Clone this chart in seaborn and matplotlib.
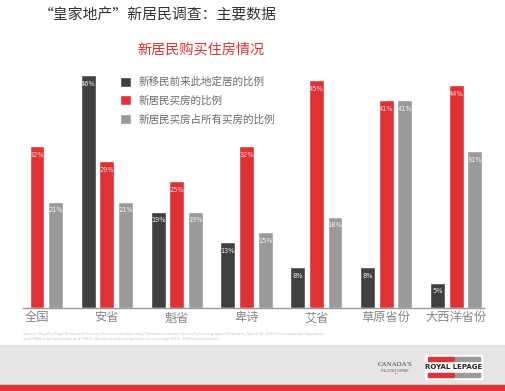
import numpy as np
import pandas as pd
import matplotlib.pyplot as plt
import seaborn as sns
from matplotlib.patches import Rectangle

# Data
regions = ['全国', '安省', '魁省', '卑诗', '艾省', '草原省份', '大西洋省份']
settle_pct = [np.nan, 46, 19, 13, 8, 8, 5]      # 新移民前来此地定居的比例
buy_pct = [32, 29, 25, 32, 45, 41, 44]          # 新居民买房的比例
share_pct = [21, 21, 19, 15, 18, 41, 31]        # 新居民买房占所有买房的比例
series = ['新移民前来此地定居的比例', '新居民买房的比例', '新居民买房占所有买房的比例']
colors = ['#404040', '#e03134', '#9a9a9a']
label_colors = ['#f0f0f0', '#ffd6d6', '#f4f4f4']

df = pd.DataFrame({'region': regions * 3,
                   'series': [s for s in series for _ in regions],
                   'value': settle_pct + buy_pct + share_pct})

sns.set_style('white')
plt.rcParams['font.family'] = ['Noto Sans CJK SC', 'DejaVu Sans']

fig = plt.figure(figsize=(5.06, 3.91), dpi=100)
ax = fig.add_axes([0.0455, 0.2123, 0.911, 0.6087])

sns.barplot(data=df, x='region', y='value', hue='series', hue_order=series,
            palette=colors, width=0.8, gap=0.2, saturation=1, ax=ax)

ax.set_ylim(0, 47)
ax.set_xlim(-0.2, 6.4)
ax.set_xlabel('')
ax.set_ylabel('')
ax.set_yticks([])
for s in ['top', 'right', 'left']:
    ax.spines[s].set_visible(False)
ax.spines['bottom'].set_color('#9a9a9a')
ax.spines['bottom'].set_linewidth(1)
ax.tick_params(axis='x', length=0, pad=2.5, labelsize=8.8, labelcolor='#858585')

# value labels inside top of bars
for cont, lc in zip(ax.containers, label_colors):
    for bar in cont:
        h = bar.get_height()
        if np.isnan(h) or h == 0:
            continue
        ax.text(bar.get_x() + bar.get_width() / 2, h - 1.1, f'{h:.0f}%',
                ha='center', va='top', fontsize=4.8, color=lc,
                family='DejaVu Sans')

# legend
handles, labels = ax.get_legend_handles_labels()
ax.legend(handles, labels, loc='upper left', bbox_to_anchor=(0.228, 0.815),
          bbox_transform=fig.transFigure, frameon=False, fontsize=7.6,
          handlelength=1.1, handleheight=1.1, handletextpad=0.7,
          labelspacing=0.75, labelcolor='#6a6a6a', borderaxespad=0)

# titles
fig.text(0.076, 0.962, '“皇家地产”新居民调查：主要数据', fontsize=10.7,
         color='#333333', va='center', ha='left')
fig.text(0.397, 0.874, '新居民购买住房情况', fontsize=10.2,
         color='#e03134', va='center', ha='center')

# source note
fig.text(0.045, 0.152,
         'Source: Royal LePage Newcomer Survey (homeownership rate); Statistics Canada, '
         'Quarterly Demographic Estimates, March 21, 2019 (international migration)\n'
         'and CREA total units sales and CMHC absorbed units using a five year average '
         '2014 - 2018 (total market)',
         fontsize=2.95, color='#c4c4c4', va='top', ha='left', linespacing=1.4)

# footer band
fig.patches.append(Rectangle((0, 0.013), 1, 0.105, transform=fig.transFigure,
                             color='#e7e5e4', zorder=0))
fig.patches.append(Rectangle((0, 0), 1, 0.015, transform=fig.transFigure,
                             color='#e03134', zorder=0))

# logos
fig.text(0.781, 0.068, "CANADA'S", fontsize=5, color='#444444', ha='center',
         va='center', family='Liberation Serif')
fig.text(0.781, 0.052, 'REAL ESTATE COMPANY', fontsize=1.8, color='#555555',
         ha='center', va='center')
fig.text(0.781, 0.040, '•', fontsize=4, color='#e03134', ha='center', va='center')
fig.patches.append(Rectangle((0.840, 0.031), 0.113, 0.061, transform=fig.transFigure,
                             color='white', zorder=1))
fig.patches.append(Rectangle((0.846, 0.077), 0.052, 0.009, transform=fig.transFigure,
                             color='#e03134', zorder=2))
fig.patches.append(Rectangle((0.900, 0.077), 0.048, 0.009, transform=fig.transFigure,
                             color='#9a9a9a', zorder=2))
fig.patches.append(Rectangle((0.846, 0.037), 0.052, 0.009, transform=fig.transFigure,
                             color='#e03134', zorder=2))
fig.patches.append(Rectangle((0.900, 0.037), 0.048, 0.009, transform=fig.transFigure,
                             color='#9a9a9a', zorder=2))
fig.text(0.897, 0.061, 'ROYAL LEPAGE', fontsize=5, color='#222222', ha='center',
         va='center', weight='bold', family='DejaVu Sans', zorder=3)

fig.savefig('out.png', dpi=100)
